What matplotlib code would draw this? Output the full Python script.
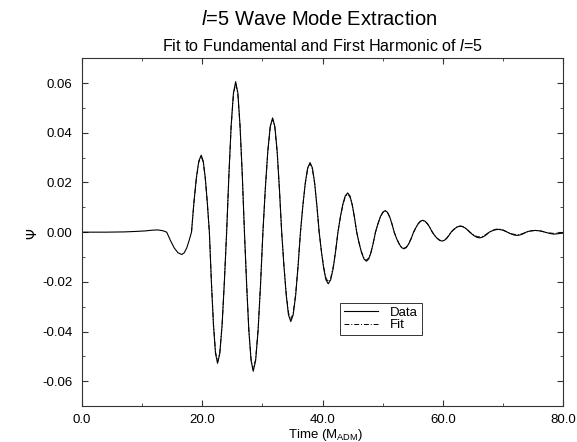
import numpy as np
from matplotlib import pyplot as plt
from matplotlib.ticker import MultipleLocator, FormatStrFormatter

plt.rcParams['font.family'] = ['Liberation Sans', 'DejaVu Sans']
plt.rcParams['mathtext.fontset'] = 'custom'
plt.rcParams['mathtext.rm'] = 'Liberation Sans'
plt.rcParams['mathtext.it'] = 'Liberation Sans:italic'
plt.rcParams['axes.unicode_minus'] = False

# values, one row per half cycle
time = [0.0, 4.0, 7.0, 9.0, 10.5, 11.7, 12.6, 13.4,
        14.08, 14.71, 15.34, 15.96, 16.59, 16.99, 17.40, 17.80,
        18.2, 18.6, 19.01, 19.41, 19.81, 20.15, 20.49, 20.83,
        21.17, 21.51, 21.85, 22.19, 22.53, 22.91, 23.29, 23.66,
        24.04, 24.42, 24.79, 25.17, 25.54, 25.91, 26.27, 26.64,
        27.0, 27.37, 27.73, 28.1, 28.46, 28.86, 29.27, 29.67,
        30.07, 30.47, 30.88, 31.28, 31.68, 32.06, 32.44, 32.81,
        33.19, 33.57, 33.95, 34.32, 34.7, 35.1, 35.51, 35.91,
        36.31, 36.71, 37.11, 37.51, 37.91, 38.29, 38.67, 39.04,
        39.42, 39.8, 40.18, 40.55, 40.93, 41.33, 41.74, 42.14,
        42.54, 42.94, 43.35, 43.75, 44.15, 44.53, 44.91, 45.28,
        45.66, 46.06, 46.47, 46.87, 47.27, 47.65, 48.03, 48.4,
        48.78, 49.18, 49.59, 49.99, 50.39, 50.77, 51.14, 51.52,
        51.89, 52.29, 52.7, 53.1, 53.5, 53.9, 54.31, 54.71,
        55.11, 55.49, 55.87, 56.24, 56.62, 57.02, 57.43, 57.83,
        58.23, 58.63, 59.04, 59.44, 59.84, 60.22, 60.6, 60.97,
        61.35, 61.73, 62.11, 62.48, 62.86, 63.26, 63.67, 64.07,
        64.47, 64.87, 65.27, 65.67, 66.07, 66.47, 66.88, 67.28,
        67.68, 68.06, 68.44, 68.81, 69.19, 69.57, 69.95, 70.32,
        70.7, 71.1, 71.51, 71.91, 72.31, 72.69, 73.07, 73.44,
        73.82, 74.2, 74.58, 74.95, 75.33, 75.73, 76.14, 76.54,
        76.94, 77.7, 78.44, 79.2, 80.0]

psi_data = [0.0, 0.0, 0.0001, 0.0003, 0.0005, 0.0008, 0.0009, 0.0006,
            0.0, -0.0034, -0.0064, -0.0083, -0.009, -0.0083, -0.0064, -0.0034,
            0.0, 0.0119, 0.0219, 0.0286, 0.031, 0.0286, 0.0219, 0.0119,
            0.0, -0.0202, -0.0373, -0.0488, -0.0528, -0.0488, -0.0373, -0.0202,
            0.0, 0.0232, 0.0428, 0.056, 0.0606, 0.056, 0.0428, 0.0232,
            0.0, -0.0214, -0.0396, -0.0517, -0.056, -0.0517, -0.0396, -0.0214,
            0.0, 0.0176, 0.0325, 0.0425, 0.046, 0.0425, 0.0325, 0.0176,
            0.0, -0.0138, -0.0255, -0.0333, -0.036, -0.0333, -0.0255, -0.0138,
            0.0, 0.0107, 0.0198, 0.0259, 0.028, 0.0259, 0.0198, 0.0107,
            0.0, -0.008, -0.0147, -0.0192, -0.0208, -0.0192, -0.0147, -0.008,
            0.0, 0.0061, 0.0112, 0.0146, 0.0158, 0.0146, 0.0112, 0.0061,
            0.0, -0.0045, -0.0083, -0.0108, -0.0117, -0.0108, -0.0083, -0.0045,
            0.0, 0.0033, 0.0062, 0.008, 0.0087, 0.008, 0.0062, 0.0033,
            0.0, -0.0026, -0.0047, -0.0062, -0.0067, -0.0062, -0.0047, -0.0026,
            0.0, 0.0018, 0.0034, 0.0044, 0.0048, 0.0044, 0.0034, 0.0018,
            0.0, -0.0014, -0.0025, -0.0033, -0.0036, -0.0033, -0.0025, -0.0014,
            0.0, 0.0009, 0.0017, 0.0022, 0.0024, 0.0022, 0.0017, 0.0009,
            0.0, -0.0009, -0.0016, -0.0021, -0.0023, -0.0021, -0.0016, -0.0009,
            0.0, 0.0004, 0.0008, 0.001, 0.0011, 0.001, 0.0008, 0.0004,
            0.0, -0.0005, -0.0009, -0.0012, -0.0013, -0.0012, -0.0009, -0.0005,
            0.0, 0.0003, 0.0005, 0.0006, 0.0007, 0.0006, 0.0005, 0.0003,
            0.0, -0.0005, -0.0008, -0.0006, -0.0003]

# fit curve, starting at the zero crossing near t=18
fit_start = 16
psi_fit = [0.0, 0.0117, 0.0216, 0.0282, 0.0305, 0.0282, 0.0216, 0.0117,
           0.0, -0.02, -0.0369, -0.0482, -0.0522, -0.0482, -0.0369, -0.02,
           0.0, 0.023, 0.0424, 0.0554, 0.06, 0.0554, 0.0424, 0.023,
           0.0, -0.0212, -0.0391, -0.0511, -0.0553, -0.0511, -0.0391, -0.0212,
           0.0, 0.0174, 0.0322, 0.042, 0.0455, 0.042, 0.0322, 0.0174,
           0.0, -0.0135, -0.0249, -0.0325, -0.0352, -0.0325, -0.0249, -0.0135,
           0.0, 0.0106, 0.0195, 0.0255, 0.0276, 0.0255, 0.0195, 0.0106,
           0.0, -0.0077, -0.0141, -0.0185, -0.02, -0.0185, -0.0141, -0.0077,
           0.0, 0.0059, 0.0109, 0.0142, 0.0154, 0.0142, 0.0109, 0.0059,
           0.0, -0.0043, -0.008, -0.0104, -0.0113, -0.0104, -0.008, -0.0043,
           0.0, 0.0033, 0.006, 0.0079, 0.0085, 0.0079, 0.006, 0.0033,
           0.0, -0.0025, -0.0046, -0.006, -0.0065, -0.006, -0.0046, -0.0025,
           0.0, 0.0018, 0.0033, 0.0043, 0.0047, 0.0043, 0.0033, 0.0018,
           0.0, -0.0013, -0.0025, -0.0032, -0.0035, -0.0032, -0.0025, -0.0013,
           0.0, 0.001, 0.0018, 0.0023, 0.0025, 0.0023, 0.0018, 0.001,
           0.0, -0.0007, -0.0013, -0.0018, -0.0019, -0.0018, -0.0013, -0.0007,
           0.0, 0.0005, 0.0009, 0.0012, 0.0013, 0.0012, 0.0009, 0.0005,
           0.0, -0.0004, -0.0007, -0.0009, -0.001, -0.0009, -0.0007, -0.0004,
           0.0, 0.0003, 0.0005, 0.0006, 0.0007, 0.0006, 0.0005, 0.0003,
           0.0, -0.0003, -0.0005, -0.0004, -0.0002]

x_ticks = [0, 20, 40, 60, 80]
y_ticks = [-0.06, -0.04, -0.02, 0.0, 0.02, 0.04, 0.06]

fig = plt.figure(figsize=(5.77, 4.42), dpi=100)
ax = fig.add_axes([0.1421, 0.0814, 0.8342, 0.7867])

ax.plot(time, psi_data, color='k', lw=0.8, label='Data')
ax.plot(time[fit_start:], psi_fit, color='k', lw=0.7,
        linestyle=(0, (5, 2, 1, 2)), label='Fit')

ax.set_xlim(0, 80)
ax.set_ylim(-0.07, 0.07)
ax.set_xticks(x_ticks)
ax.set_yticks(y_ticks)
ax.xaxis.set_minor_locator(MultipleLocator(10))
ax.yaxis.set_minor_locator(MultipleLocator(0.01))
ax.xaxis.set_major_formatter(FormatStrFormatter('%.1f'))
ax.yaxis.set_major_formatter(FormatStrFormatter('%.2f'))
ax.tick_params(which='both', direction='in', top=True, right=True,
               labelsize=9.5, color='#333333')
ax.tick_params(which='major', length=4, pad=7)
ax.tick_params(axis='x', which='major', pad=5.5)
ax.tick_params(which='minor', length=2)
for s in ax.spines.values():
    s.set_linewidth(0.8)
    s.set_color('#333333')

fig.text(0.553, 0.955, '$\\it{l}$=5 Wave Mode Extraction',
         ha='center', va='center', fontsize=14.5)
fig.text(0.558, 0.895, 'Fit to Fundamental and First Harmonic of $\\it{l}$=5',
         ha='center', va='center', fontsize=11.6)
fig.text(0.056, 0.472, '\u03a8', rotation=90, ha='center', va='center',
         fontsize=10, family=['DejaVu Sans'])
fig.text(0.565, 0.009, 'Time (M$_{\\rm ADM}$)', ha='center', va='baseline',
         fontsize=9.5)

leg = ax.legend(loc='lower left', bbox_to_anchor=(0.536, 0.204),
                fontsize=9.5, handlelength=2.6, handletextpad=0.9,
                borderpad=0.3, borderaxespad=0, labelspacing=0.0,
                fancybox=False, framealpha=1, edgecolor='#333333')
leg.get_frame().set_linewidth(0.7)

fig.savefig('out.png', dpi=100)
